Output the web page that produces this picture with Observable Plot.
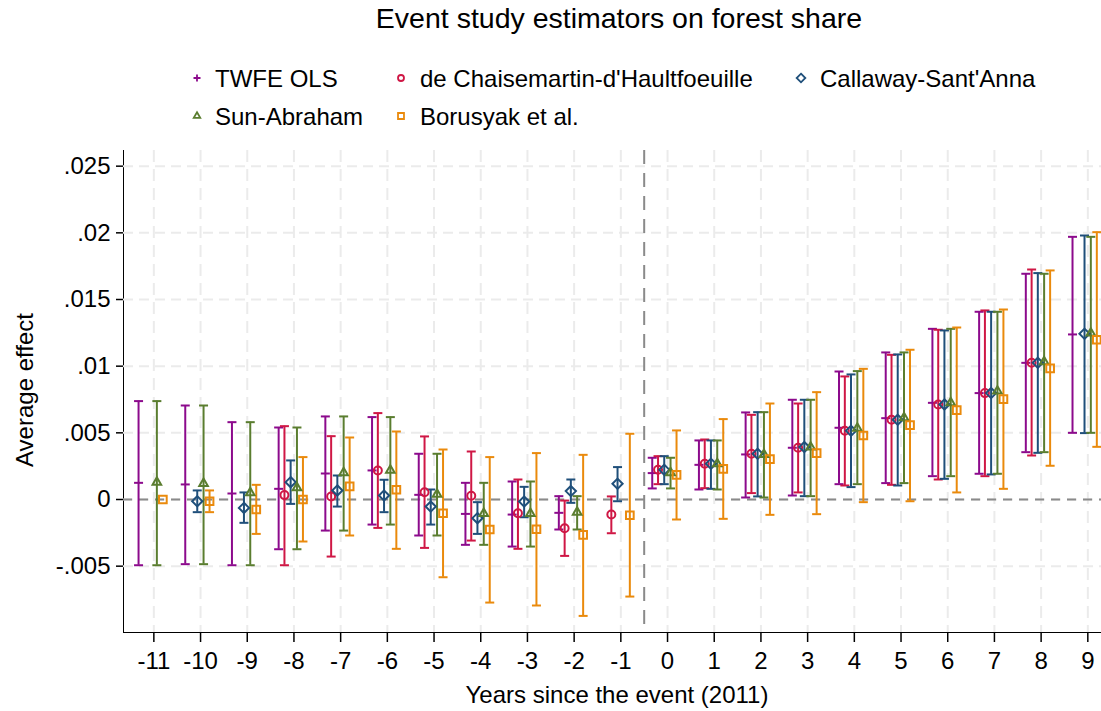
<!DOCTYPE html>
<html>
<head>
<meta charset="utf-8">
<script src="https://cdn.jsdelivr.net/npm/d3@7"></script>
<script src="https://cdn.jsdelivr.net/npm/@observablehq/plot@0.6"></script>
<style>
  body { margin: 0; background: #fff; font-family: "Liberation Sans", Arial, Helvetica, sans-serif; color: #000; }
  #wrap { position: relative; width: 1101px; height: 711px; overflow: hidden; background: #fff; }
  .abs { position: absolute; white-space: nowrap; }
  #title { left: 119px; width: 1000px; top: 4px; text-align: center; font-size: 28.5px; line-height: 28px; }
  .leg { font-size: 24px; line-height: 24px; height: 24px; }
  .leg svg { position: absolute; overflow: visible; }
  #xlab { left: 317px; width: 600px; top: 683px; text-align: center; font-size: 24px; line-height: 24px; }
  #ylab { left: -175px; top: 378px; width: 400px; height: 24px; text-align: center; font-size: 24px; line-height: 24px; transform: rotate(-90deg); transform-origin: 50% 50%; }
  #chart { position: absolute; left: 0; top: 140px; }
  #chart svg g[aria-label*="axis"] path, #chart svg g[aria-label*="axis"] line { stroke-width: 1.5px; }
</style>
</head>
<body>
<div id="wrap">
  <div id="title" class="abs">Event study estimators on forest share</div>
  <div id="legend"></div>
  <div id="chart"></div>
  <div id="xlab" class="abs">Years since the event (2011)</div>
  <div id="ylab" class="abs">Average effect</div>
</div>
<script>
// ---------------- data ----------------
const periods = [-11,-10,-9,-8,-7,-6,-5,-4,-3,-2,-1,0,1,2,3,4,5,6,7,8,9];
const yTicks = [-0.005, 0, 0.005, 0.01, 0.015, 0.02, 0.025];
const seriesNames = ["TWFE OLS", "de Chaisemartin-d'Haultfoeuille", "Callaway-Sant'Anna", "Sun-Abraham", "Borusyak et al."];

const twfeEst = [0.00125,0.00113,0.00045,0.0008,0.00195,0.00218,0.00035,-0.00108,-0.00113,-0.001,null,0.00198,0.0026,0.00338,0.00388,0.00538,0.0061,0.00725,0.00798,0.01025,0.01238];
const twfeLo  = [-0.00493,-0.00485,-0.00493,-0.00373,-0.00233,-0.00188,-0.0027,-0.0034,-0.00353,-0.00225,null,0.00083,0.00075,0.00015,0.0003,0.00115,0.00123,0.00175,0.00193,0.00355,0.005];
const twfeHi  = [0.00738,0.00705,0.0058,0.0054,0.00623,0.00618,0.00343,0.00125,0.00135,0.00025,null,0.00313,0.00443,0.00653,0.00748,0.0096,0.01103,0.0128,0.01408,0.01693,0.0197];

const dcdhEst = [null,null,null,0.00033,0.00023,0.00218,0.00055,0.00028,-0.00103,-0.00215,-0.00113,0.00223,0.00268,0.00343,0.00388,0.00515,0.00598,0.00713,0.00798,0.01025,null];
const dcdhLo  = [null,null,null,-0.00493,-0.00428,-0.00213,-0.00363,-0.00308,-0.0037,-0.00423,-0.00253,0.00115,0.00085,0.00048,0.00053,0.00105,0.0011,0.0015,0.00175,0.0033,null];
const dcdhHi  = [null,null,null,0.0055,0.00475,0.00648,0.00473,0.0036,0.0015,-0.00008,0.00023,0.00325,0.0045,0.00635,0.0072,0.00923,0.01085,0.01273,0.01418,0.01725,null];

const csEst = [null,-0.00013,-0.00063,0.0013,0.00068,0.0003,-0.00053,-0.0014,-0.00015,0.00063,0.00118,0.00223,0.00268,0.00343,0.00393,0.00515,0.00598,0.00713,0.00798,0.01025,0.01243];
const csLo  = [null,-0.00095,-0.00175,-0.00033,-0.00053,-0.00095,-0.00188,-0.00258,-0.00133,-0.00025,-0.00013,0.00115,0.0008,0.00023,0.00025,0.00093,0.00105,0.00155,0.00188,0.0035,0.00498];
const csHi  = [null,0.00068,0.00053,0.00293,0.0018,0.00148,0.00075,-0.0002,0.00095,0.0015,0.00243,0.00325,0.00443,0.00655,0.00748,0.00938,0.01088,0.01268,0.01408,0.01698,0.0198];

const saEst = [0.0013,0.0012,0.0005,0.00088,0.002,0.0022,0.0004,-0.00105,-0.00105,-0.00095,null,0.002,0.00268,0.00338,0.00393,0.00535,0.00613,0.00725,0.00813,0.01033,0.01248];
const saLo  = [-0.00493,-0.00485,-0.00493,-0.00373,-0.00233,-0.00188,-0.0027,-0.0034,-0.00353,-0.00225,null,0.00083,0.00075,0.00015,0.00025,0.00115,0.00123,0.00175,0.00193,0.00355,0.005];
const saHi  = [0.00738,0.00705,0.0058,0.0054,0.00623,0.00618,0.00343,0.00125,0.00135,0.00025,null,0.00313,0.00443,0.00655,0.00748,0.00963,0.01103,0.0128,0.01408,0.01693,0.0197];

const bjsEst = [0,-0.00013,-0.00075,0,0.00098,0.00073,-0.00103,-0.00225,-0.00223,-0.00265,-0.00118,0.00185,0.0023,0.00303,0.00348,0.0048,0.00558,0.0067,0.00753,0.00983,0.01198];
const bjsLo  = [null,-0.00095,-0.00258,-0.00315,-0.0027,-0.0037,-0.00583,-0.00773,-0.00795,-0.00873,-0.00728,-0.0015,-0.00145,-0.00115,-0.0011,-0.0002,-0.00013,0.00053,0.0008,0.00253,0.00395];
const bjsHi  = [null,0.00068,0.0011,0.00318,0.00465,0.0051,0.00375,0.00318,0.00348,0.00335,0.00493,0.00518,0.00603,0.0072,0.00805,0.0098,0.01123,0.0129,0.01425,0.01718,0.02005];

const eventLine = [-0.5];
const zeroLine = [0];

// ---------------- table ----------------
const table = [];
function addSeries(name, est, lo, hi) {
  periods.forEach((p, i) => {
    if (est[i] != null) table.push({series: name, period: p, est: est[i], lo: lo[i], hi: hi[i]});
  });
}
addSeries(seriesNames[0], twfeEst, twfeLo, twfeHi);
addSeries(seriesNames[1], dcdhEst, dcdhLo, dcdhHi);
addSeries(seriesNames[2], csEst, csLo, csHi);
addSeries(seriesNames[3], saEst, saLo, saHi);
addSeries(seriesNames[4], bjsEst, bjsLo, bjsHi);

// ---------------- styles ----------------
const capSym = { draw(ctx) { ctx.moveTo(-4.5, 0); ctx.lineTo(4.5, 0); } };
const styles = {
  "TWFE OLS":                        {color: "#8c0a8c", symbol: capSym,      r: 3,   dx: -15.3},
  "de Chaisemartin-d'Haultfoeuille": {color: "#cf1745", symbol: "circle",    r: 4,   dx: -9.5},
  "Callaway-Sant'Anna":              {color: "#1f4f7a", symbol: "diamond2",  r: 4.6, dx: -3.3},
  "Sun-Abraham":                     {color: "#5a7d2f", symbol: "triangle2", r: 4.1, dx: 3},
  "Borusyak et al.":                 {color: "#ea8a0c", symbol: "square2",   r: 4.9, dx: 9}
};

const fmtY = d => d === 0 ? "0" : String(+d.toFixed(4)).replace(/^(-?)0\./, "$1.");

const barMarks = seriesNames.flatMap(name => {
  const st = styles[name];
  const d = table.filter(r => r.series === name && r.lo != null);
  return [
    Plot.ruleX(d, {x: "period", y1: "lo", y2: "hi", dx: st.dx, stroke: st.color, strokeWidth: 2}),
    Plot.dot(d, {x: "period", y: "lo", dx: st.dx, symbol: capSym, r: 3, stroke: st.color, strokeWidth: 2, fill: "none"}),
    Plot.dot(d, {x: "period", y: "hi", dx: st.dx, symbol: capSym, r: 3, stroke: st.color, strokeWidth: 2, fill: "none"})
  ];
});
const pointMarks = seriesNames.map(name => {
  const st = styles[name];
  const d = table.filter(r => r.series === name);
  return Plot.dot(d, {x: "period", y: "est", dx: st.dx, symbol: st.symbol, r: st.r, stroke: st.color, strokeWidth: 2, fill: "none"});
});

const chart = Plot.plot({
  width: 1101,
  height: 571,
  marginTop: 10,
  marginBottom: 79,
  marginLeft: 123,
  marginRight: 0,
  style: {fontFamily: "'Liberation Sans', Arial, Helvetica, sans-serif", fontSize: "24px", background: "#fff", color: "#000", overflow: "visible"},
  x: {domain: [-11.65, 9.293], ticks: periods, tickFormat: d => String(d), tickSize: 10, tickPadding: 9, label: null, line: true},
  y: {domain: [-0.009975, 0.026175], ticks: yTicks, tickFormat: fmtY, tickSize: 7, tickPadding: 6, label: null, line: true},
  marks: [
    Plot.ruleY(yTicks, {stroke: "#ebebeb", strokeWidth: 2, strokeDasharray: "10,6"}),
    Plot.ruleX(periods, {stroke: "#ebebeb", strokeWidth: 2, strokeDasharray: "12,7"}),
    Plot.ruleY(zeroLine, {stroke: "#8a8a8a", strokeWidth: 2, strokeDasharray: "9,7"}),
    Plot.ruleX(eventLine, {stroke: "#8a8a8a", strokeWidth: 2, strokeDasharray: "14,9"}),
    ...barMarks,
    ...pointMarks
  ]
});
document.getElementById("chart").appendChild(chart);

// ---------------- legend (HTML) ----------------
const legendLayout = [
  {name: seriesNames[0], mx: 197, tx: 215, row: 0},
  {name: seriesNames[1], mx: 401, tx: 420, row: 0},
  {name: seriesNames[2], mx: 801, tx: 820, row: 0},
  {name: seriesNames[3], mx: 197, tx: 215, row: 1},
  {name: seriesNames[4], mx: 401, tx: 420, row: 1}
];
const rowTop = [67, 104.6];
const legendSize = {"TWFE OLS": 2.4, "de Chaisemartin-d'Haultfoeuille": 3.0, "Callaway-Sant'Anna": 3.9, "Sun-Abraham": 3.1, "Borusyak et al.": 3.8};
const legendSym = {
  "TWFE OLS": { draw(ctx) { ctx.moveTo(-3.5, 0); ctx.lineTo(3.5, 0); ctx.moveTo(0, -3.5); ctx.lineTo(0, 3.5); } },
  "de Chaisemartin-d'Haultfoeuille": d3.symbolCircle,
  "Callaway-Sant'Anna": d3.symbolDiamond2,
  "Sun-Abraham": d3.symbolTriangle2,
  "Borusyak et al.": d3.symbolSquare2
};
const legend = d3.select("#legend");
legendLayout.forEach(it => {
  const st = styles[it.name];
  const top = rowTop[it.row];
  const r = legendSize[it.name];
  const svg = legend.append("svg").attr("class", "abs")
    .style("left", (it.mx - 10) + "px").style("top", (top + 12 - 1 - 10) + "px")
    .attr("width", 20).attr("height", 20);
  svg.append("path")
    .attr("transform", "translate(10,10)")
    .attr("d", d3.symbol(legendSym[it.name], r * r * Math.PI)())
    .attr("fill", "none").attr("stroke", st.color).attr("stroke-width", 1.8);
  legend.append("div").attr("class", "abs leg")
    .style("left", it.tx + "px").style("top", top + "px")
    .text(it.name);
});
</script>
</body>
</html>
